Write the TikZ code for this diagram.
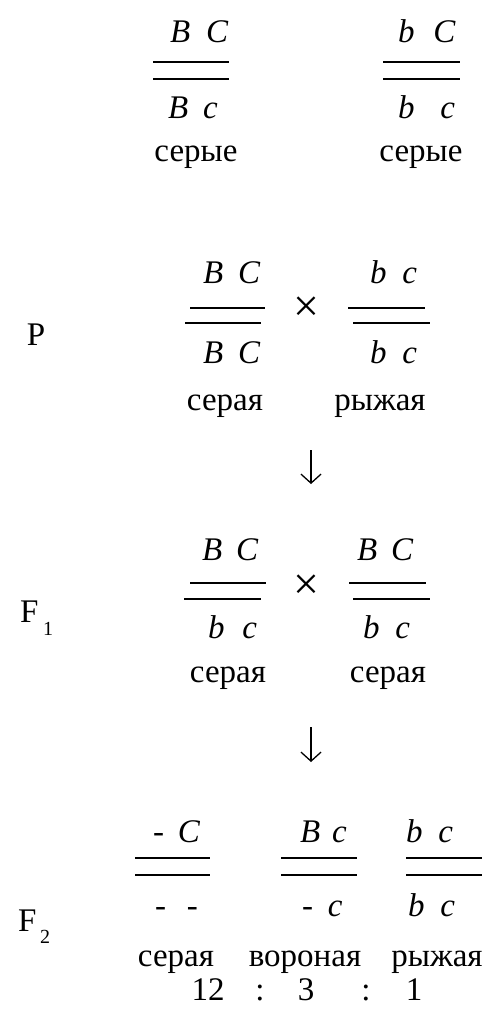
\documentclass[tikz,border=0pt]{standalone}
\usepackage{fontspec}
\setmainfont{Liberation Serif}
\usetikzlibrary{arrows.meta}
\begin{document}
\begin{tikzpicture}[x=1pt,y=-1pt,
  every node/.style={inner sep=0pt,outer sep=0pt,font=\fontsize{33}{40}\selectfont},
  gene/.style={anchor=base west,font=\fontsize{33}{40}\selectfont\itshape},
  word/.style={anchor=base},
  lbl/.style={anchor=base west},
  sub/.style={anchor=base west,font=\fontsize{20}{24}\selectfont},
  cross/.style={font=\fontsize{46}{50}\selectfont},
  chrom/.style={line width=1.4pt},
  arr/.style={line width=1.3pt,-{Straight Barb[length=9pt,width=20pt,line width=1.3pt]}}]
\useasboundingbox (0,0) rectangle (496,1009);

% ---- row 1 ----
\node[gene] (r1aU) at (170,42) {B\hspace{16pt}C};
\draw[chrom] (153,62) -- (229,62);
\draw[chrom] (153,79) -- (229,79);
\node[gene] (r1aL) at (168,118) {B\hspace{15pt}c};
\node[word] (r1aW) at (196,161) {серые};

\node[gene] (r1bU) at (398,42) {b\hspace{19pt}C};
\draw[chrom] (383,62) -- (460,62);
\draw[chrom] (383,79) -- (460,79);
\node[gene] (r1bL) at (398,118) {b\hspace{26pt}c};
\node[word] (r1bW) at (421,161) {серые};

% ---- P ----
\node[lbl] (P) at (27,345) {P};
\node[gene] (pAU) at (203,283) {B\hspace{15pt}C};
\draw[chrom] (190,308) -- (265,308);
\draw[chrom] (185,323) -- (261,323);
\node[gene] (pAL) at (203,363) {B\hspace{15pt}C};
\node[word] (pAW) at (225,410) {серая};
\node[cross] (pX) at (306,309) {×};
\node[gene] (pBU) at (370,283) {b\hspace{16pt}c};
\draw[chrom] (348,308) -- (425,308);
\draw[chrom] (353,323) -- (430,323);
\node[gene] (pBL) at (370,363) {b\hspace{16pt}c};
\node[word] (pBW) at (380,410) {рыжая};

\coordinate (a1s) at (311,450);
\coordinate (a1e) at (311,484);
\draw[arr] (a1s) -- (a1e);

% ---- F1 ----
\node[lbl] (F1) at (20,622) {F};
\node[sub] (F1s) at (43,635) {1};
\node[gene] (fAU) at (202,560) {B\hspace{14pt}C};
\draw[chrom] (190,583) -- (266,583);
\draw[chrom] (184,599) -- (261,599);
\node[gene] (fAL) at (208,638) {b\hspace{18pt}c};
\node[word] (fAW) at (228,682) {серая};
\node[cross] (fX) at (306,587) {×};
\node[gene] (fBU) at (357,560) {B\hspace{14pt}C};
\draw[chrom] (349,583) -- (426,583);
\draw[chrom] (353,599) -- (430,599);
\node[gene] (fBL) at (363,638) {b\hspace{16pt}c};
\node[word] (fBW) at (388,682) {серая};

\coordinate (a2s) at (311,727);
\coordinate (a2e) at (311,762);
\draw[arr] (a2s) -- (a2e);

% ---- F2 ----
\node[lbl] (F2) at (18,931) {F};
\node[sub] (F2s) at (40,943) {2};
\node[gene] (gAU) at (153,842) {-\hspace{14pt}C};
\draw[chrom] (135,858) -- (210,858);
\draw[chrom] (135,875) -- (210,875);
\node[gene] (gAL) at (155,916) {-\hspace{21pt}-};
\node[gene] (gBU) at (300,842) {B\hspace{12pt}c};
\draw[chrom] (281,858) -- (357,858);
\draw[chrom] (281,875) -- (357,875);
\node[gene] (gBL) at (302,916) {-\hspace{15pt}c};
\node[gene] (gCU) at (406,842) {b\hspace{16pt}c};
\draw[chrom] (406,858) -- (482,858);
\draw[chrom] (406,875) -- (482,875);
\node[gene] (gCL) at (408,916) {b\hspace{16pt}c};

\node[word] (wA) at (176,966) {серая};
\node[word] (wB) at (305,966) {вороная};
\node[word] (wC) at (437,966) {рыжая};

\node[word] (n12) at (208,1000) {12};
\node[word] (c1) at (260,1000) {:};
\node[word] (n3) at (306,1000) {3};
\node[word] (c2) at (366,1000) {:};
\node[word] (n1) at (414,1000) {1};
\end{tikzpicture}
\end{document}
